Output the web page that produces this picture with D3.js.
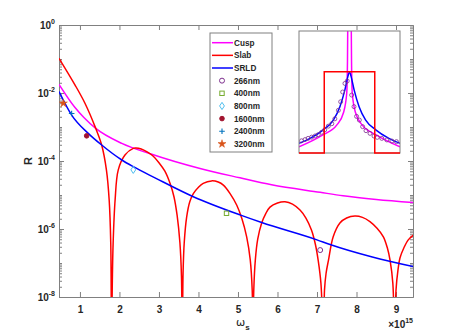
<!DOCTYPE html>
<html>
<head>
<meta charset="utf-8">
<script src="https://cdn.jsdelivr.net/npm/d3@7"></script>
<style>
  body { margin: 0; background: #fff; }
  text { font-family: "Liberation Sans", Arial, sans-serif; font-weight: bold; fill: #262626; }
</style>
</head>
<body>
<div id="chart"></div>
<script>
// ---- data (omega_s in units of 1e15) ----
var slabW = [0.47, 0.873, 1.127, 1.40, 1.55, 1.67, 1.74, 1.78, 1.80,
             1.82, 1.84, 1.89, 1.97, 2.14, 2.35, 2.42, 2.55, 2.70, 2.85, 3.00, 3.15, 3.28, 3.38, 3.46, 3.53, 3.57, 3.59,
             3.61, 3.64, 3.70, 3.78, 3.87, 4.00, 4.12, 4.33, 4.50, 4.63, 4.80, 4.97, 5.10, 5.22, 5.31, 5.36, 5.38,
             5.40, 5.44, 5.50, 5.60, 5.70, 5.81, 6.00, 6.19, 6.38, 6.57, 6.72, 6.86, 6.96, 7.03, 7.10, 7.17,
             7.19, 7.23, 7.29, 7.41, 7.58, 7.75, 7.96, 8.15, 8.34, 8.52, 8.68, 8.78, 8.85, 8.92, 8.97,
             9.00, 9.05, 9.10, 9.20, 9.31, 9.44];
var slabR = [1.05e-1, 1.74e-2, 5.0e-3, 9.1e-4, 2.95e-4, 5.5e-5, 7.1e-6, 3.8e-7, 3e-10,
             3e-8, 3.8e-7, 7.1e-6, 5.5e-5, 1.5e-4, 2.35e-4, 2.4e-4, 2.25e-4, 1.85e-4, 1.4e-4, 8.9e-5, 5e-5, 2.2e-5, 8.9e-6, 2.5e-6, 4e-7, 4e-8, 3e-10,
             5e-8, 4e-7, 2.2e-6, 6.3e-6, 1.1e-5, 1.7e-5, 2.2e-5, 2.6e-5, 2.4e-5, 1.95e-5, 1.1e-5, 5e-6, 2e-6, 5.9e-7, 1.26e-7, 1.6e-8, 3e-10,
             1.6e-8, 1.26e-7, 5e-7, 1.5e-6, 2.8e-6, 4.4e-6, 5.8e-6, 6.3e-6, 5.4e-6, 3.6e-6, 2.1e-6, 9.3e-7, 3.5e-7, 1.2e-7, 2.5e-8, 3e-10,
             1.6e-8, 5e-8, 1.2e-7, 5.9e-7, 1.5e-6, 2.1e-6, 2.4e-6, 2.2e-6, 1.65e-6, 1.05e-6, 5.9e-7, 2.8e-7, 1.2e-7, 2.5e-8, 3e-10,
             1.6e-8, 6.3e-8, 1.4e-7, 2.8e-7, 4.8e-7, 6.6e-7];

var cuspW = [0.47, 0.87, 1.1, 1.40, 2.06, 2.8, 4.04, 5.05, 5.85, 7.08, 7.66, 8.5, 9.44];
var cuspR = [1.8e-2, 3.8e-3, 1.9e-3, 9.1e-4, 3.3e-4, 1.6e-4, 6e-5, 3.2e-5, 2e-5, 1.2e-5, 9.5e-6, 7.4e-6, 6e-6];

var srldW = [0.47, 0.79, 1.21, 1.55, 2.06, 2.35, 2.90, 3.87, 5.05, 5.60, 7.0, 7.33, 8.4, 9.44];
var srldR = [1.1e-2, 2.24e-3, 6.5e-4, 2.95e-4, 1.07e-4, 6.8e-5, 3.2e-5, 8.9e-6, 2.6e-6, 1.55e-6, 4.8e-7, 3.5e-7, 1.5e-7, 7.8e-8];

var expNames = ["266nm", "400nm", "800nm", "1600nm", "2400nm", "3200nm"];
var expW = [7.08, 4.71, 2.35, 1.17, 0.79, 0.58];
var expR = [2.4e-7, 2.9e-6, 5.5e-5, 5.5e-4, 2.5e-3, 5e-3];
var expColors = ["#7E2F8E", "#77AC30", "#4DBEEE", "#A2142F", "#0072BD", "#D95319"];

var xTicks = [1, 2, 3, 4, 5, 6, 7, 8, 9];
var yTickExp = [0, -2, -4, -6, -8];

// inset (profile, arbitrary units)
var inSlabX = [-1, -0.5, -0.5, 0.5, 0.5, 1];
var inSlabY = [0, 0, 0.667, 0.667, 0, 0];
var inSrldX = [-1, -0.78, -0.52, -0.32, -0.19, -0.09, -0.03, 0, 0.03, 0.09, 0.19, 0.32, 0.52, 0.78, 1];
var inSrldY = [0.08, 0.12, 0.19, 0.27, 0.38, 0.52, 0.63, 0.667, 0.63, 0.52, 0.38, 0.27, 0.19, 0.12, 0.08];
var inCuspX = [-1, -0.52, -0.25, -0.12, -0.055, -0.04, -0.03, 0, 0.03, 0.04, 0.055, 0.12, 0.25, 0.52, 1];
var inCuspY = [0.05, 0.15, 0.23, 0.33, 0.49, 0.75, 1.3, 4, 1.3, 0.75, 0.49, 0.33, 0.23, 0.15, 0.05];
var inDataX = [-0.95, -0.88, -0.82, -0.75, -0.68, -0.62, -0.55, -0.49, -0.42, -0.35, -0.29, -0.22, -0.175, -0.135, -0.09, -0.045,
               0.043, 0.089, 0.14, 0.195, 0.26, 0.327, 0.406, 0.485, 0.55, 0.64, 0.74, 0.84, 0.93];
var inDataY = [0.10, 0.11, 0.12, 0.13, 0.14, 0.15, 0.17, 0.19, 0.22, 0.24, 0.28, 0.35, 0.42, 0.50, 0.57, 0.59,
               0.475, 0.38, 0.30, 0.27, 0.216, 0.183, 0.161, 0.139, 0.128, 0.12, 0.107, 0.098, 0.093];

// ---- layout ----
var margin = {top: 25, right: 44, bottom: 38, left: 59},
    width = 457 - margin.left - margin.right,
    height = 335 - margin.top - margin.bottom;

var svg = d3.select("#chart")
  .append("svg")
    .attr("width", 457)
    .attr("height", 335)
  .append("g")
    .attr("transform", "translate(" + margin.left + "," + margin.top + ")");

var x = d3.scaleLinear().domain([0.47, 9.43]).range([0, width]);
var y = d3.scaleLog().domain([1e-8, 1]).range([height, 0]);

svg.append("clipPath").attr("id", "clip")
  .append("rect").attr("width", width).attr("height", height);

// minor log ticks
var minor = [];
for (var e = -8; e < 0; e++) {
  for (var m = 1; m < 10; m++) {
    if (m === 1 && e % 2 === 0) continue;
    minor.push(m * Math.pow(10, e));
  }
}

var axisColor = "#808080";

function styleAxis(g) {
  g.select(".domain").attr("stroke", axisColor);
  g.selectAll(".tick line").attr("stroke", axisColor);
}

// x axes (bottom with labels, top without)
svg.append("g")
  .attr("transform", "translate(0," + height + ")")
  .call(d3.axisBottom(x).tickValues(xTicks).tickSize(-5).tickSizeOuter(0).tickPadding(9).tickFormat(d3.format("d")))
  .call(styleAxis)
  .selectAll("text").style("font-size", "10px").attr("fill", "#262626");

svg.append("g")
  .call(d3.axisTop(x).tickValues(xTicks).tickSize(-5).tickSizeOuter(0).tickFormat(""))
  .call(styleAxis);

// y axes
var yMajor = yTickExp.map(function(k) { return Math.pow(10, k); });
svg.append("g")
  .call(d3.axisLeft(y).tickValues(yMajor).tickSize(-5).tickSizeOuter(0).tickFormat(""))
  .call(styleAxis);
svg.append("g")
  .call(d3.axisLeft(y).tickValues(minor).tickSize(-3).tickSizeOuter(0).tickFormat(""))
  .call(styleAxis);
svg.append("g")
  .attr("transform", "translate(" + width + ",0)")
  .call(d3.axisRight(y).tickValues(yMajor).tickSize(-5).tickSizeOuter(0).tickFormat(""))
  .call(styleAxis);
svg.append("g")
  .attr("transform", "translate(" + width + ",0)")
  .call(d3.axisRight(y).tickValues(minor).tickSize(-3).tickSizeOuter(0).tickFormat(""))
  .call(styleAxis);

// y tick labels 10^k
yTickExp.forEach(function(k) {
  var t = svg.append("text")
    .attr("x", -4)
    .attr("y", y(Math.pow(10, k)) + 4)
    .style("text-anchor", "end")
    .style("font-size", "10px");
  t.append("tspan").text("10");
  t.append("tspan").attr("dy", -5).style("font-size", "7px").text(k === 0 ? "0" : String(k));
});

// axis labels
svg.append("text")
  .attr("transform", "translate(" + (-27) + "," + (height / 2) + ") rotate(-90)")
  .style("text-anchor", "middle")
  .style("font-size", "11px")
  .text("R");

var xl = svg.append("text")
  .attr("x", x(4.95))
  .attr("y", height + 29)
  .style("font-size", "11px");
xl.append("tspan").style("font-family", "DejaVu Sans").style("font-weight", "normal").text("\u03c9");
xl.append("tspan").attr("dy", 4).style("font-size", "8px").text("s");

var xm = svg.append("text")
  .attr("x", width)
  .attr("y", height + 31)
  .style("text-anchor", "end")
  .style("font-size", "10px");
xm.append("tspan").text("\u00d710");
xm.append("tspan").attr("dy", -5).style("font-size", "7px").text("15");

// curves
var line = d3.line()
  .x(function(d) { return x(d[0]); })
  .y(function(d) { return y(d[1]); })
  .curve(d3.curveMonotoneX);

var plot = svg.append("g").attr("clip-path", "url(#clip)");

function zip(a, b) { return a.map(function(v, i) { return [v, b[i]]; }); }

plot.append("path").datum(zip(cuspW, cuspR)).attr("d", line)
  .attr("fill", "none").attr("stroke", "#FF00FF").attr("stroke-width", 1.5);
plot.append("path").datum(zip(slabW, slabR)).attr("d", line.curve(d3.curveCatmullRom.alpha(0.5)))
  .attr("fill", "none").attr("stroke", "#FF0000").attr("stroke-width", 1.5);
plot.append("path").datum(zip(srldW, srldR)).attr("d", line.curve(d3.curveMonotoneX))
  .attr("fill", "none").attr("stroke", "#0000FF").attr("stroke-width", 1.5);

// markers
function drawMarker(g, i, cx, cy) {
  var c = expColors[i];
  if (i === 0) {
    g.append("circle").attr("cx", cx).attr("cy", cy).attr("r", 2.5)
      .attr("fill", "none").attr("stroke", c).attr("stroke-width", 1);
  } else if (i === 1) {
    g.append("rect").attr("x", cx - 2.2).attr("y", cy - 2.2).attr("width", 4.4).attr("height", 4.4)
      .attr("fill", "none").attr("stroke", c).attr("stroke-width", 1);
  } else if (i === 2) {
    g.append("path").attr("d", "M" + cx + "," + (cy - 3.6) + "L" + (cx + 2.4) + "," + cy + "L" + cx + "," + (cy + 3.6) + "L" + (cx - 2.4) + "," + cy + "Z")
      .attr("fill", "none").attr("stroke", c).attr("stroke-width", 1);
  } else if (i === 3) {
    g.append("circle").attr("cx", cx).attr("cy", cy).attr("r", 2.3).attr("fill", c).attr("stroke", c);
  } else if (i === 4) {
    g.append("path").attr("d", "M" + (cx - 2.8) + "," + cy + "H" + (cx + 2.8) + "M" + cx + "," + (cy - 2.8) + "V" + (cy + 2.8))
      .attr("stroke", c).attr("stroke-width", 1.1);
  } else {
    g.append("path").attr("d", d3.symbol(d3.symbolStar).size(20)())
      .attr("transform", "translate(" + cx + "," + cy + ")")
      .attr("fill", c).attr("stroke", c).attr("stroke-width", 0.5);
  }
}

expW.forEach(function(w, i) {
  drawMarker(svg, i, x(w), y(expR[i]));
});

// legend
var lg = svg.append("g").attr("transform", "translate(" + (210 - margin.left) + "," + (33 - margin.top) + ")");
lg.append("rect").attr("width", 62).attr("height", 119)
  .attr("fill", "#fff").attr("stroke", axisColor).attr("stroke-width", 1);
var legLines = [["Cusp", "#FF00FF"], ["Slab", "#FF0000"], ["SRLD", "#0000FF"]];
var rowH = 12.65, row0 = 9.7;
legLines.forEach(function(d, i) {
  var yy = row0 + i * rowH;
  lg.append("line").attr("x1", 2).attr("x2", 23).attr("y1", yy).attr("y2", yy)
    .attr("stroke", d[1]).attr("stroke-width", 1.5);
  lg.append("text").attr("x", 24).attr("y", yy + 3).style("font-size", "8.2px").text(d[0]);
});
expNames.forEach(function(n, i) {
  var yy = row0 + (i + 3) * rowH;
  drawMarker(lg, i, 12, yy);
  lg.append("text").attr("x", 24).attr("y", yy + 3).style("font-size", "8.2px").text(n);
});

// inset
var ix0 = 299 - margin.left, iy0 = 31 - margin.top, iw = 101, ih = 122;
var inset = svg.append("g").attr("transform", "translate(" + ix0 + "," + iy0 + ")");
inset.append("clipPath").attr("id", "clipIn")
  .append("rect").attr("width", iw).attr("height", ih);
inset.append("rect").attr("width", iw).attr("height", ih).attr("fill", "#fff");

var ix = d3.scaleLinear().domain([-1, 1]).range([0, iw]);
var iy = d3.scaleLinear().domain([0, 1]).range([ih, 0]);
var iline = d3.line().x(function(d) { return ix(d[0]); }).y(function(d) { return iy(d[1]); });
var ig = inset.append("g").attr("clip-path", "url(#clipIn)");

ig.append("path").datum(zip(inCuspX, inCuspY)).attr("d", iline.curve(d3.curveMonotoneX))
  .attr("fill", "none").attr("stroke", "#FF00FF").attr("stroke-width", 1.5);
ig.append("path").datum(zip(inSrldX, inSrldY)).attr("d", iline.curve(d3.curveMonotoneX))
  .attr("fill", "none").attr("stroke", "#0000FF").attr("stroke-width", 1.5);
ig.selectAll(".idot").data(zip(inDataX, inDataY)).enter().append("circle")
  .attr("class", "idot")
  .attr("cx", function(d) { return ix(d[0]); })
  .attr("cy", function(d) { return iy(d[1]); })
  .attr("r", 2).attr("fill", "none").attr("stroke", "#7E2F8E").attr("stroke-width", 0.8);
inset.append("rect").attr("width", iw).attr("height", ih)
  .attr("fill", "none").attr("stroke", axisColor).attr("stroke-width", 1);
inset.append("path").datum(zip(inSlabX, inSlabY)).attr("d", iline.curve(d3.curveLinear))
  .attr("fill", "none").attr("stroke", "#FF0000").attr("stroke-width", 1.5);
</script>
</body>
</html>
